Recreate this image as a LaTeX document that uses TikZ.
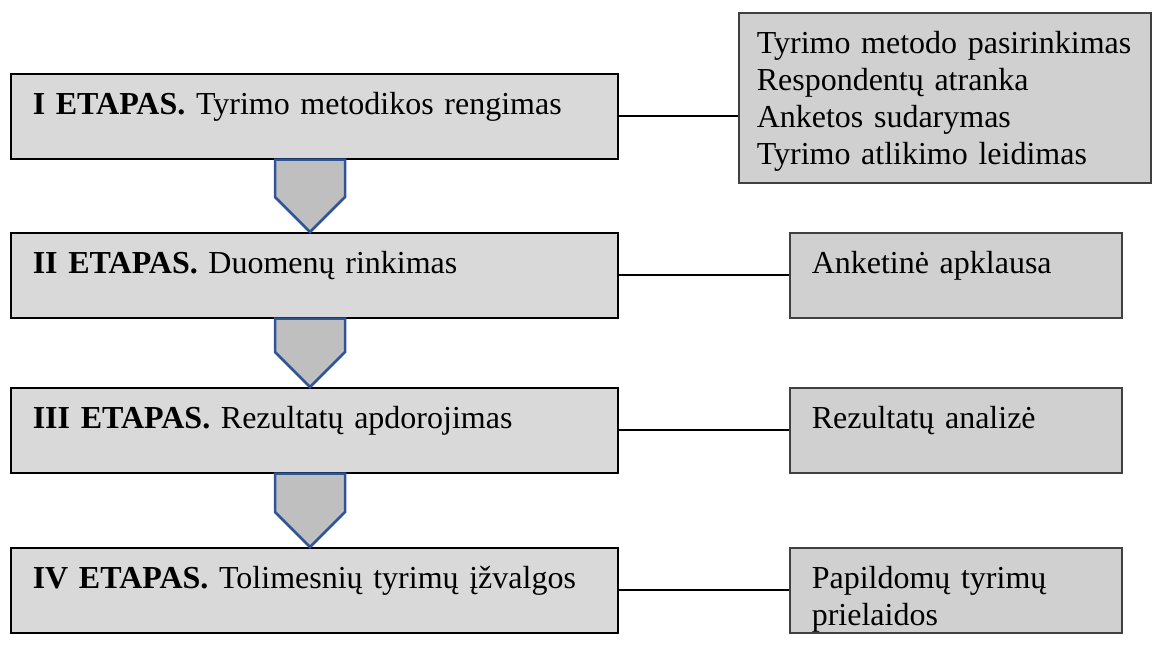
\documentclass[tikz,border=0pt]{standalone}
\usepackage{fontspec}
\setmainfont{Liberation Serif}
\usetikzlibrary{calc}
\definecolor{stagefill}{HTML}{D9D9D9}
\definecolor{taskfill}{HTML}{D0D0D0}
\definecolor{taskline}{HTML}{404040}
\definecolor{arrowfill}{HTML}{BFBFBF}
\definecolor{arrowline}{HTML}{2F5597}

\begin{document}
\begin{tikzpicture}[x=1pt,y=-1pt,
	font=\fontsize{32}{37}\selectfont,
	stage/.style={draw=black, line width=1.5pt, fill=stagefill, anchor=north west, inner xsep=22pt, inner ysep=0pt, text width=563pt, align=left, text height=41pt, text depth=44pt},
	task/.style={stage, draw=taskline, fill=taskfill, text width=288pt},
	downarrow/.style={draw=arrowline, line width=2.5pt, fill=arrowfill, line join=miter},
	link/.style={draw=black, line width=2pt}]
	\useasboundingbox (0,0) rectangle (1152,648);
	
	\node[stage] (s1) at (10,73) {\textbf{I ETAPAS.} Tyrimo metodikos rengimas};
	\node[stage] (s2) at (10,232) {\textbf{II ETAPAS.} Duomenų rinkimas};
	\node[stage] (s3) at (10,387) {\textbf{III ETAPAS.} Rezultatų apdorojimas};
	\node[stage] (s4) at (10,547) {\textbf{IV ETAPAS.} Tolimesnių tyrimų įžvalgos};
	
	\node[task, text width=376pt, inner xsep=18pt, text depth=129pt] (t1) at (738,12) {Tyrimo metodo pasirinkimas\\Respondentų atranka\\Anketos sudarymas\\Tyrimo atlikimo leidimas};
	\node[task] (t2) at (789,232) {Anketinė apklausa};
	\node[task] (t3) at (789,387) {Rezultatų analizė};
	\node[task] (t4) at (789,547) {Papildomų tyrimų\\prielaidos};
	
	\foreach \a/\b in {s1/t1,s2/t2,s3/t3,s4/t4}
		\draw[link] (\a.east) -- (\a.east -| \b.west);
	
	\foreach \a/\b in {s1/s2,s2/s3,s3/s4}
		\draw[downarrow] ($(\a.south west)+(265,0)$) -- ($(\a.south west)+(335,0)$) -- ($(\b.north west)+(335,-35)$) -- ($(\b.north west)+(300,0)$) -- ($(\b.north west)+(265,-35)$) -- cycle;
\end{tikzpicture}
\end{document}
